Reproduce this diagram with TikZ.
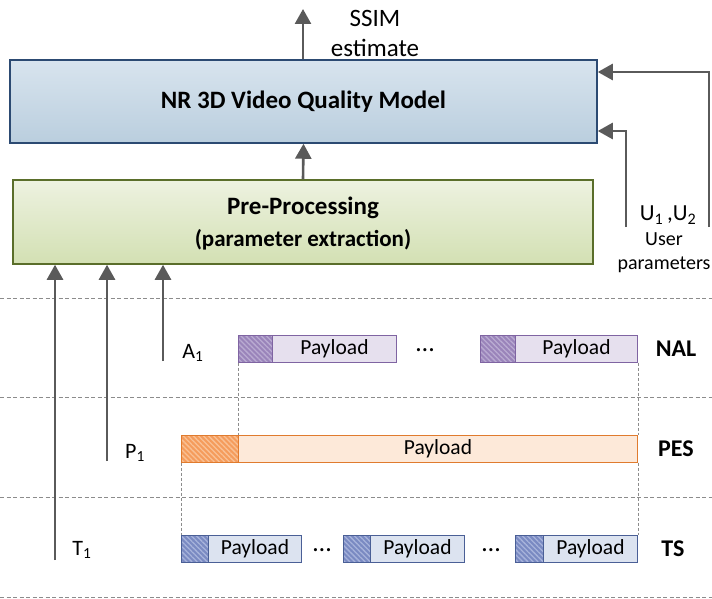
\documentclass[tikz,border=0pt]{standalone}
\usepackage{fontspec}
\setmainfont{Carlito}
\usetikzlibrary{arrows.meta,patterns.meta,calc}
\definecolor{nrT}{HTML}{D8E4EE}
\definecolor{nrB}{HTML}{BACEDE}
\definecolor{nrdraw}{HTML}{2C4A72}
\definecolor{preT}{HTML}{EDF2E0}
\definecolor{preB}{HTML}{D3E0B3}
\definecolor{predraw}{HTML}{5A6E2A}
\definecolor{naldraw}{HTML}{7F64A2}
\definecolor{nalfill}{HTML}{E6E0EE}
\definecolor{nalbase}{HTML}{9A84BA}
\definecolor{nalstripe}{HTML}{BAABD2}
\definecolor{pesdraw}{HTML}{E07B2E}
\definecolor{pesfill}{HTML}{FDE9D9}
\definecolor{pesbase}{HTML}{F59C5C}
\definecolor{pesstripe}{HTML}{F9C195}
\definecolor{tsdraw}{HTML}{4A5F96}
\definecolor{tsfill}{HTML}{DCE3F0}
\definecolor{tsbase}{HTML}{7A8AC2}
\definecolor{tsstripe}{HTML}{A7B3DB}
\definecolor{arrowc}{HTML}{5A5A5A}
\definecolor{sepc}{HTML}{8C8C8C}
\begin{document}
\begin{tikzpicture}[x=1pt,y=-1pt,
  arr/.style={draw=arrowc, line width=2.6pt, -{Triangle[length=15pt,width=16pt]}},
  box/.style={rectangle, inner sep=0pt},
  nrbox/.style={box, line width=1.5pt, draw=nrdraw, top color=nrT, bottom color=nrB,
    minimum width=587pt, minimum height=83pt, font=\fontsize{25}{30}\selectfont\bfseries},
  prebox/.style={box, line width=1.5pt, draw=predraw, top color=preT, bottom color=preB,
    minimum width=580pt, minimum height=84pt},
  pkt/.style={box, line width=1pt, minimum height=27pt, anchor=west},
  pay/.style={pkt, font=\fontsize{21.5}{26}\selectfont},
  hatch/.style={pattern={Lines[angle=-45,distance=3.6pt,line width=1.3pt]}},
  nalh/.style={pkt, draw=naldraw, preaction={fill=nalbase}, hatch, pattern color=nalstripe},
  nalp/.style={pay, draw=naldraw, fill=nalfill},
  pesh/.style={pkt, draw=pesdraw, preaction={fill=pesbase}, hatch, pattern color=pesstripe},
  pesp/.style={pay, draw=pesdraw, fill=pesfill},
  tsh/.style={pkt, draw=tsdraw, preaction={fill=tsbase}, hatch, pattern color=tsstripe},
  tsp/.style={pay, draw=tsdraw, fill=tsfill},
  layer/.style={font=\fontsize{24}{28}\selectfont\bfseries},
  lab/.style={font=\fontsize{22}{26}\selectfont},
  dotsn/.style={font=\fontsize{26}{30}\selectfont, inner sep=0pt},
  sep/.style={draw=sepc, line width=0.8pt, dash pattern=on 4pt off 2.5pt},
  vdash/.style={draw=sepc, line width=0.7pt, dash pattern=on 3pt off 2pt}]
\useasboundingbox (0,0) rectangle (712,599);

% main boxes
\node[nrbox] (nr) at (303.5,101.5) {NR 3D Video Quality Model};
\node[prebox] (pre) at (303,222) {};
\node[font=\fontsize{25}{30}\selectfont\bfseries] (pret1) at (303,208) {Pre-Processing};
\node[font=\fontsize{23}{28}\selectfont\bfseries] (pret2) at (303,240) {(parameter extraction)};

% output
\coordinate (ssimtip) at (303,9);
\draw[arr] (ssimtip |- nr.north) -- (ssimtip);
\node[font=\fontsize{25}{30}\selectfont, align=center] (ssim) at (375,33) {SSIM\\estimate};
\draw[arr] (pre.north) -- (nr.south);

% user parameters
\coordinate (u1) at (626,227);
\coordinate (u2) at (709,227);
\draw[arr] (u1) |- ([yshift=-29.5pt]nr.east);
\draw[arr] (u2) |- ([yshift=29.5pt]nr.east);
\node[font=\fontsize{23}{27}\selectfont] (ulab) at (668,215) {U\textsubscript{1}\,,U\textsubscript{2}};
\node[font=\fontsize{20}{24}\selectfont, align=center] (user) at (664,253) {User\\parameters};

% separators
\draw[sep] (0,298) -- (712,298);
\draw[sep] (0,397) -- (712,397);
\draw[sep] (0,497) -- (712,497);
\draw[sep] (0,597) -- (712,597);

% NAL row
\node[nalh, minimum width=34pt] (nh1) at (238,348.5) {};
\node[nalp, minimum width=124pt] (np1) at (272,348.5) {Payload};
\node[dotsn] (nd1) at (425,350) {…};
\node[nalh, minimum width=35pt] (nh2) at (480,348.5) {};
\node[nalp, minimum width=122pt] (np2) at (515,348.5) {Payload};
\node[layer] (nal) at (676,348.5) {NAL};

% PES row
\node[pesh, minimum width=57pt] (ph) at (181,448.5) {};
\node[pesp, minimum width=399pt] (pp) at (238,448.5) {Payload};
\node[layer] (pes) at (676,448.5) {PES};

% TS row
\node[tsh, minimum width=27pt] (th1) at (181,548.5) {};
\node[tsp, minimum width=93pt] (tp1) at (208,548.5) {Payload};
\node[dotsn] (td1) at (322,550) {…};
\node[tsh, minimum width=27pt] (th2) at (343,548.5) {};
\node[tsp, minimum width=94pt] (tp2) at (370,548.5) {Payload};
\node[dotsn] (td2) at (491,550) {…};
\node[tsh, minimum width=28pt] (th3) at (515,548.5) {};
\node[tsp, minimum width=94pt] (tp3) at (543,548.5) {Payload};
\node[layer] (ts) at (673,548.5) {TS};

% encapsulation guides
\draw[vdash] (nh1.south west) -- (pp.north west);
\draw[vdash] (np2.south east) -- (pp.north east);
\draw[vdash] (ph.south west) -- (th1.north west);
\draw[vdash] (pp.south east) -- (tp3.north east);

% extracted parameters
\coordinate (a1s) at (163,361);
\coordinate (p1s) at (107,461);
\coordinate (t1s) at (55,560);
\node[lab] (a1) at (193,353) {A\textsubscript{1}};
\node[lab] (p1) at (135,453) {P\textsubscript{1}};
\node[lab] (t1) at (82,550) {T\textsubscript{1}};
\draw[arr] (a1s) -- (a1s |- pre.south);
\draw[arr] (p1s) -- (p1s |- pre.south);
\draw[arr] (t1s) -- (t1s |- pre.south);
\end{tikzpicture}
\end{document}
